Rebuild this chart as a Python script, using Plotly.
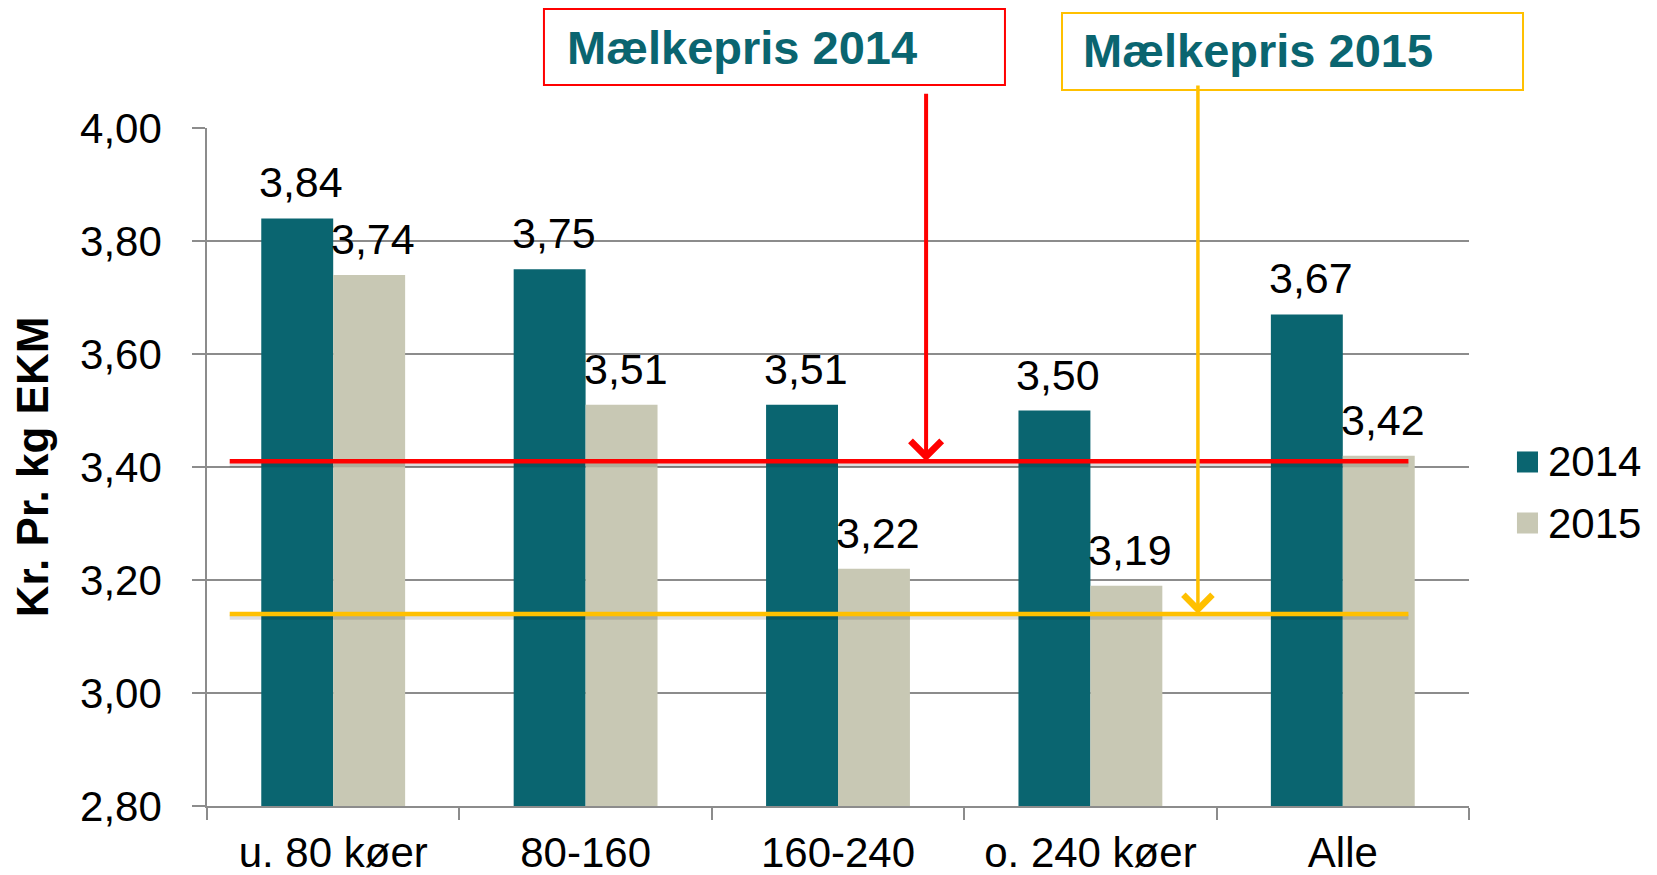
import plotly.graph_objects as go

categories = ["u. 80 køer", "80-160", "160-240", "o. 240 køer", "Alle"]
values_2014 = [3.84, 3.75, 3.51, 3.50, 3.67]
values_2015 = [3.74, 3.51, 3.22, 3.19, 3.42]
series_names = ["2014", "2015"]
milk_price_2014 = 3.41
milk_price_2015 = 3.14
y_ticks = [2.80, 3.00, 3.20, 3.40, 3.60, 3.80, 4.00]
y_tick_labels = ["2,80", "3,00", "3,20", "3,40", "3,60", "3,80", "4,00"]
box_labels = ["Mælkepris 2014", "Mælkepris 2015"]

TEAL = "#0a6570"
BEIGE = "#c8c8b4"
RED = "#ff0000"
YELLOW = "#ffc000"
GRID = "#8c8c8c"
FONT = "Liberation Sans, Arial, sans-serif"

fig = go.Figure()
fig.add_trace(go.Bar(x=categories, y=values_2014, name=series_names[0],
                     marker=dict(color=TEAL, line=dict(width=0)), showlegend=False))
fig.add_trace(go.Bar(x=categories, y=values_2015, name=series_names[1],
                     marker=dict(color=BEIGE, line=dict(width=0)), showlegend=False))

annotations = []
BAR_HALF = 36
for vals, shift in ((values_2014, -BAR_HALF), (values_2015, BAR_HALF)):
    for c, v in zip(categories, vals):
        annotations.append(dict(x=c, y=v, xref="x", yref="y",
                                text=f"{v:.2f}".replace(".", ","),
                                showarrow=False, xanchor="center", yanchor="bottom",
                                xshift=shift + 4, yshift=10,
                                font=dict(size=43, color="black", family=FONT)))

shapes = []
# milk price lines with soft shadow
for price, col in ((milk_price_2014, RED), (milk_price_2015, YELLOW)):
    shapes.append(dict(type="line", xref="x", yref="y", x0=-0.41, x1=4.26,
                       y0=price - 0.006, y1=price - 0.006,
                       line=dict(color="rgba(0,0,0,0.13)", width=5)))
    shapes.append(dict(type="line", xref="x", yref="y", x0=-0.41, x1=4.26,
                       y0=price, y1=price, line=dict(color=col, width=4.5)))

# arrows
annotations.append(dict(x=2.349, y=milk_price_2014, xref="x", yref="y", text="",
                        showarrow=True, ax=0, ay=-369, arrowhead=4, arrowsize=1.5,
                        arrowwidth=4, arrowcolor=RED, standoff=0))
annotations.append(dict(x=3.426, y=milk_price_2015, xref="x", yref="y", text="",
                        showarrow=True, ax=0, ay=-530, arrowhead=4, arrowsize=1.6,
                        arrowwidth=3.5, arrowcolor=YELLOW, standoff=0))

# boxes
shapes.append(dict(type="rect", xref="paper", yref="paper", x0=0.267, x1=0.6323,
                   y0=1.0634, y1=1.1755, line=dict(color=RED, width=2),
                   fillcolor="white", layer="above"))
shapes.append(dict(type="rect", xref="paper", yref="paper", x0=0.6775, x1=1.0428,
                   y0=1.056, y1=1.1696, line=dict(color=YELLOW, width=2),
                   fillcolor="white", layer="above"))
annotations.append(dict(x=0.2837, y=1.118, xref="paper", yref="paper", text=f"<b>{box_labels[0]}</b>",
                        showarrow=False, xanchor="left", yanchor="middle",
                        font=dict(size=47, color=TEAL, family=FONT)))
annotations.append(dict(x=0.6926, y=1.1136, xref="paper", yref="paper", text=f"<b>{box_labels[1]}</b>",
                        showarrow=False, xanchor="left", yanchor="middle",
                        font=dict(size=47, color=TEAL, family=FONT)))

# legend (custom)
for name, col, yc in ((series_names[0], TEAL, 0.5074), (series_names[1], BEIGE, 0.4174)):
    shapes.append(dict(type="rect", xref="paper", yref="paper", x0=1.038, x1=1.0547,
                       y0=yc - 0.0155, y1=yc + 0.0155, fillcolor=col, line=dict(width=0)))
    annotations.append(dict(x=1.061, y=yc, xref="paper", yref="paper", text=name,
                            showarrow=False, xanchor="left", yanchor="middle",
                            font=dict(size=42, color="black", family=FONT)))

fig.update_layout(
    width=1649, height=867,
    margin=dict(l=199, r=188, t=120, b=69),
    paper_bgcolor="white", plot_bgcolor="white",
    barmode="group", bargap=0.43, bargroupgap=0,
    font=dict(family=FONT, color="black"),
    showlegend=False,
    shapes=shapes, annotations=annotations,
)
fig.update_xaxes(
    type="category", tickson="boundaries", ticks="outside", ticklen=12, tickwidth=1.5,
    tickcolor=GRID, showline=True, linecolor=GRID, linewidth=1.5, showgrid=False,
    tickfont=dict(size=42, family=FONT, color="black"), ticklabelstandoff=9,
    automargin=False,
)
fig.update_yaxes(
    range=[2.8, 4.0], tickvals=y_ticks, ticktext=y_tick_labels,
    ticks="outside", ticklen=13, tickwidth=1.5, tickcolor=GRID,
    showline=True, linecolor=GRID, linewidth=1.5,
    showgrid=True, gridcolor=GRID, gridwidth=1.5, zeroline=False,
    tickfont=dict(size=42, family=FONT, color="black"), ticklabelstandoff=22,
    title=dict(text="<b>Kr. Pr. kg EKM</b>", font=dict(size=44, family=FONT, color="black"),
               standoff=22),
    automargin=False,
)

fig.write_html("out.html")
